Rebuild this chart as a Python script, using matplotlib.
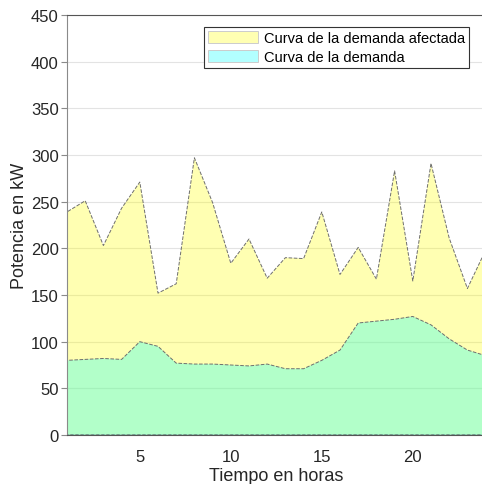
import matplotlib
matplotlib.use('Agg')
import matplotlib.pyplot as plt

plt.rcParams['font.family'] = ['Liberation Sans', 'DejaVu Sans']

# Data
hours = list(range(1, 25))
demanda_afectada = [239, 251, 203, 243, 271, 152, 162, 297, 249, 184, 210, 168,
                    190, 189, 239, 172, 201, 167, 283, 165, 291, 211, 157, 198]
demanda = [80, 81, 82, 81, 100, 95, 77, 76, 76, 75, 74, 76,
           71, 71, 80, 91, 120, 122, 124, 127, 118, 103, 91, 85]

fig = plt.figure(figsize=(4.82, 4.85), dpi=100)
ax = fig.add_axes([67/482, 1 - 436/485, 418.6/482, 420/485])

ax.fill_between(hours, 0, demanda_afectada, facecolor=(1, 1, 0, 0.3),
                edgecolor='#6e6e6e', linestyle='--', linewidth=0.7,
                label='Curva de la demanda afectada')
ax.fill_between(hours, 0, demanda, facecolor=(0, 1, 1, 0.3),
                edgecolor='#6e6e6e', linestyle='--', linewidth=0.7,
                label='Curva de la demanda')

ax.set_xlim(1, 24)
ax.set_ylim(0, 450)
ax.set_yticks(range(0, 451, 50))
ax.set_xticks([5, 10, 15, 20])
ax.grid(axis='y', color='#e3e3e3', linewidth=0.8)
ax.set_axisbelow(True)

for s in ['left', 'right']:
    ax.spines[s].set_color('#8a8a8a')
ax.spines['top'].set_color('#555555')
ax.spines['bottom'].set_color('#555555')
ax.tick_params(axis='y', direction='out', length=4, color='#8a8a8a',
               labelsize=12, labelcolor='#262626', pad=2)
ax.tick_params(axis='x', length=0, labelsize=12, labelcolor='#262626', pad=10)

ax.set_xlabel('Tiempo en horas', fontsize=13, color='#262626', labelpad=2)
ax.set_ylabel('Potencia en kW', fontsize=13, color='#262626', labelpad=2)

leg = ax.legend(loc='upper right', bbox_to_anchor=(469/482, 1 - 28/485),
                bbox_transform=fig.transFigure, fontsize=10.5, frameon=True,
                fancybox=False, edgecolor='#333333', framealpha=1,
                handlelength=3.4, handleheight=0.9, handletextpad=0.4,
                borderpad=0.3, labelspacing=0.28, borderaxespad=0)
leg.get_frame().set_linewidth(0.8)
for h in leg.legend_handles:
    h.set_linestyle('-')
    h.set_edgecolor('#cccccc')

fig.savefig('out.png', dpi=100)
